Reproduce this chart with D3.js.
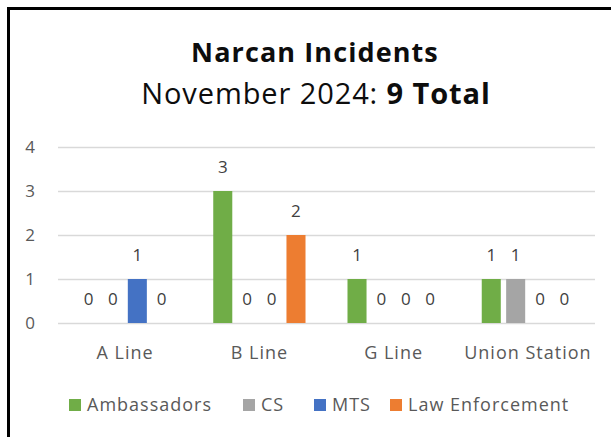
<!DOCTYPE html>
<html>
<head>
<meta charset="utf-8">
<script src="https://cdn.jsdelivr.net/npm/d3@7"></script>
<style>
  html, body { margin: 0; padding: 0; background: #fff; }
  svg { display: block; }
</style>
</head>
<body>
<div id="chart"></div>
<script>
const categories = ["A Line", "B Line", "G Line", "Union Station"];
const seriesNames = ["Ambassadors", "CS", "MTS", "Law Enforcement"];
const ambassadors = [0, 3, 1, 1];
const cs = [0, 0, 0, 1];
const mts = [1, 0, 0, 0];
const lawEnforcement = [0, 2, 0, 0];
const yTicks = [0, 1, 2, 3, 4];
const colors = ["#70AD47", "#A5A5A5", "#4472C4", "#ED7D31"];

const width = 611, height = 437;
const font = "'Open Sans', sans-serif";

// build table for grouped bars
const seriesValues = [ambassadors, cs, mts, lawEnforcement];
const table = categories.map((c, i) => ({
  category: c,
  values: seriesNames.map((s, j) => ({ key: s, value: seriesValues[j][i], color: colors[j] }))
}));

const svg = d3.select("#chart").append("svg")
  .attr("width", width)
  .attr("height", height)
  .attr("font-family", font);

// outer frame (left + top edges visible only)
svg.append("rect")
  .attr("x", 8.5).attr("y", 8.5)
  .attr("width", width + 20).attr("height", height + 20)
  .attr("fill", "#fff")
  .attr("stroke", "#000")
  .attr("stroke-width", 3);

// title
svg.append("text")
  .attr("x", 315).attr("y", 62)
  .attr("text-anchor", "middle")
  .attr("font-size", 27).attr("font-weight", "bold")
  .attr("letter-spacing", 1.1)
  .attr("fill", "#0d0d0d")
  .text("Narcan Incidents");

const sub = svg.append("text")
  .attr("x", 316).attr("y", 104)
  .attr("text-anchor", "middle")
  .attr("font-size", 29)
  .attr("letter-spacing", 0.9)
  .attr("fill", "#0d0d0d");
sub.append("tspan").text("November 2024: ");
sub.append("tspan").attr("font-weight", "bold").text("9 Total");

const margin = { left: 58, right: 16, top: 147, bottom: 114 };
const plotW = width - margin.left - margin.right;

const x0 = d3.scaleBand()
  .domain(categories)
  .range([margin.left, margin.left + plotW])
  .padding(0);

const x1 = d3.scaleBand()
  .domain(seriesNames)
  .range([0, x0.bandwidth()])
  .paddingInner(0.22)
  .paddingOuter(0.86);

const y = d3.scaleLinear()
  .domain([0, 4])
  .range([323, 147]);

// gridlines
svg.append("g")
  .selectAll("line")
  .data(yTicks)
  .join("line")
  .attr("x1", margin.left)
  .attr("x2", margin.left + plotW)
  .attr("y1", d => Math.round(y(d)) + 0.5)
  .attr("y2", d => Math.round(y(d)) + 0.5)
  .attr("stroke", "#D9D9D9")
  .attr("stroke-width", 1.5);

// y axis labels
const yAxis = svg.append("g")
  .attr("transform", `translate(${margin.left - 23},0)`)
  .call(d3.axisLeft(y).tickValues(yTicks).tickSize(0).tickPadding(0).tickFormat(d3.format("d")));
yAxis.select(".domain").remove();
yAxis.selectAll("text")
  .attr("font-family", font)
  .attr("font-size", 17)
  .attr("fill", "#595959");

// x axis labels
const xAxis = svg.append("g")
  .attr("transform", `translate(0,${y(0)})`)
  .call(d3.axisBottom(x0).tickSize(0).tickPadding(23));
xAxis.select(".domain").remove();
xAxis.selectAll("text")
  .attr("font-family", font)
  .attr("font-size", 18)
  .attr("letter-spacing", 1)
  .attr("fill", "#595959");

// bars
const groups = svg.append("g")
  .selectAll("g")
  .data(table)
  .join("g")
  .attr("transform", d => `translate(${x0(d.category)},0)`);

groups.selectAll("rect")
  .data(d => d.values)
  .join("rect")
  .attr("x", d => x1(d.key))
  .attr("width", x1.bandwidth())
  .attr("y", d => y(d.value))
  .attr("height", d => y(0) - y(d.value))
  .attr("fill", d => d.color);

groups.selectAll("text")
  .data(d => d.values)
  .join("text")
  .attr("x", d => x1(d.key) + x1.bandwidth() / 2)
  .attr("y", d => y(d.value) - 18)
  .attr("text-anchor", "middle")
  .attr("font-size", 17)
  .attr("fill", "#404040")
  .text(d => d.value);

// legend
const legendX = [69, 243, 314, 390];
const legend = svg.append("g")
  .selectAll("g")
  .data(seriesNames)
  .join("g")
  .attr("transform", (d, i) => `translate(${legendX[i]},399)`);

legend.append("rect")
  .attr("width", 12).attr("height", 12)
  .attr("fill", (d, i) => colors[i]);

legend.append("text")
  .attr("x", 18).attr("y", 12)
  .attr("font-size", 18)
  .attr("letter-spacing", 1)
  .attr("fill", "#595959")
  .text(d => d);
</script>
</body>
</html>
